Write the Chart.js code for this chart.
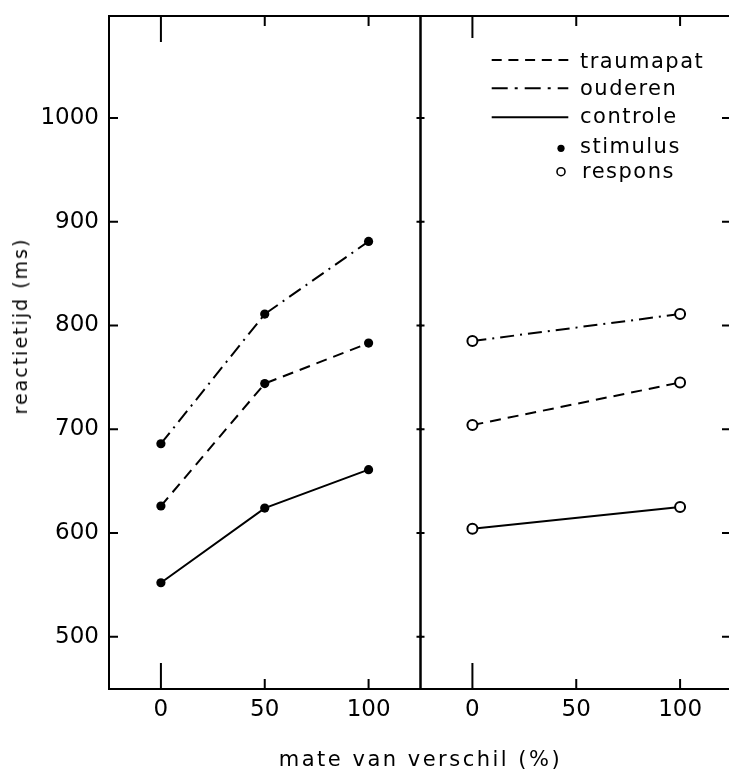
<!DOCTYPE html>
<html>
<head>
<meta charset="utf-8">
<script src="https://cdn.jsdelivr.net/npm/chart.js@4.4.1/dist/chart.umd.min.js"></script>
<style>
  html, body { margin: 0; padding: 0; background: #fff; overflow: hidden; width: 729px; height: 770px; }
  #wrap { position: relative; width: 729px; height: 770px; overflow: hidden; }
  canvas { position: absolute; top: 0; }
  .title { position: absolute; font-family: 'DejaVu Sans', sans-serif; color: #000; white-space: nowrap; line-height: normal; }
</style>
</head>
<body>
<div id="wrap">
  <canvas id="leftPanel" width="422" height="770" style="left:0px;width:422px;height:770px"></canvas>
  <canvas id="rightPanel" width="315" height="770" style="left:419px;width:315px;height:770px"></canvas>
  <div id="xTitle" class="title"></div>
  <div id="yTitle" class="title"></div>
</div>
<script>
// ---------- data ----------
const xTicks = [0, 50, 100];
const yTicks = [500, 600, 700, 800, 900, 1000];
const groups = ['traumapat', 'ouderen', 'controle'];
const markerLabels = ['stimulus', 'respons'];

const stimulusX = [0, 50, 100];
const traumapatStimulus = [626, 744, 783];
const ouderenStimulus = [686, 811, 881];
const controleStimulus = [552, 624, 661];

const responsX = [0, 100];
const traumapatRespons = [704, 745];
const ouderenRespons = [785, 811];
const controleRespons = [604, 625];

const xTitleText = 'mate van verschil (%)';
const yTitleText = 'reactietijd (ms)';

// ---------- styles ----------
const stimulusSeries = { traumapat: traumapatStimulus, ouderen: ouderenStimulus, controle: controleStimulus };
const responsSeries = { traumapat: traumapatRespons, ouderen: ouderenRespons, controle: controleRespons };
const dashes = { traumapat: [11, 7], ouderen: [14, 6, 2, 6], controle: [] };
const legendDashes = { traumapat: [10, 6.7], ouderen: [16, 7, 3, 7], controle: [] };

Chart.defaults.font.family = "'DejaVu Sans', sans-serif";
Chart.defaults.color = '#000';

const Y_MIN = 449.6, Y_MAX = 1098.3;
const X_MIN = -25, X_MAX = 125;

const frameTicks = {
  id: 'frameTicks',
  afterDraw(chart, args, o) {
    const { ctx, chartArea: a } = chart;
    const x = chart.scales.x, y = chart.scales.y;
    ctx.save();
    ctx.strokeStyle = '#000';
    ctx.lineWidth = 2;
    ctx.setLineDash([]);
    ctx.strokeRect(a.left, a.top, a.right - a.left, a.bottom - a.top);
    ctx.beginPath();
    x.ticks.forEach(t => {
      const px = x.getPixelForValue(t.value);
      const lt = t.value === 0 ? o.longTop : o.shortX;
      const lb = t.value === 0 ? o.longBottom : o.shortX;
      ctx.moveTo(px, a.top); ctx.lineTo(px, a.top + lt);
      ctx.moveTo(px, a.bottom); ctx.lineTo(px, a.bottom - lb);
    });
    y.ticks.forEach(t => {
      const py = y.getPixelForValue(t.value);
      if (o.left) { ctx.moveTo(a.left - o.left[0], py); ctx.lineTo(a.left + o.left[1], py); }
      if (o.right) { ctx.moveTo(a.right - o.right[1], py); ctx.lineTo(a.right + o.right[0], py); }
    });
    ctx.stroke();
    ctx.restore();
  }
};

const legendPlugin = {
  id: 'customLegend',
  afterDraw(chart, args, o) {
    if (!o.show) return;
    const ctx = chart.ctx;
    ctx.save();
    ctx.strokeStyle = '#000';
    ctx.fillStyle = '#000';
    ctx.font = "21px 'DejaVu Sans', sans-serif";
    if ('letterSpacing' in ctx) ctx.letterSpacing = '1.5px';
    ctx.textAlign = 'left';
    ctx.textBaseline = 'alphabetic';
    const lineX0 = 72.7, lineX1 = 149.3, textX = 161, markX = 142;
    const lineY = [60, 88.3, 117.3];
    const lineBase = [68, 94.7, 123.2];
    groups.forEach((g, i) => {
      ctx.lineWidth = 2;
      ctx.setLineDash(legendDashes[g]);
      ctx.beginPath();
      ctx.moveTo(lineX0, lineY[i]);
      ctx.lineTo(lineX1, lineY[i]);
      ctx.stroke();
      ctx.fillText(g, textX, lineBase[i]);
    });
    ctx.setLineDash([]);
    ctx.beginPath();
    ctx.arc(markX, 148.3, 3.6, 0, Math.PI * 2);
    ctx.fill();
    ctx.fillText(markerLabels[0], textX, 153.2);
    ctx.lineWidth = 1.6;
    ctx.beginPath();
    ctx.arc(markX, 171.7, 4, 0, Math.PI * 2);
    ctx.stroke();
    ctx.fillText(markerLabels[1], textX + 2, 177.7);
    ctx.restore();
  }
};

function zeroPad(s) { s.paddingTop = 0; s.paddingBottom = 0; s.paddingLeft = 0; s.paddingRight = 0; }

function makeScales(showY) {
  return {
    x: {
      type: 'linear', min: X_MIN, max: X_MAX,
      afterBuildTicks: s => { s.ticks = xTicks.map(v => ({ value: v })); },
      afterFit: s => { s.height = 81; zeroPad(s); },
      grid: { display: false, drawTicks: false },
      border: { display: false },
      ticks: { font: { size: 23 }, color: '#000', padding: 7, maxRotation: 0, autoSkip: false,
               callback: v => String(v) }
    },
    y: {
      type: 'linear', min: Y_MIN, max: Y_MAX, display: showY,
      afterBuildTicks: s => { s.ticks = yTicks.map(v => ({ value: v })); },
      afterFit: s => { if (showY) s.width = 109; zeroPad(s); },
      grid: { display: false, drawTicks: false },
      border: { display: false },
      ticks: { font: { size: 23 }, color: '#000', padding: 10, autoSkip: false,
               callback: v => String(v) }
    }
  };
}

function stimulusDatasets() {
  return groups.map(g => ({
    label: g + ' stimulus',
    data: stimulusX.map((xv, i) => ({ x: xv, y: stimulusSeries[g][i] })),
    borderColor: '#000', borderWidth: 2, borderDash: dashes[g],
    pointRadius: 4.6, pointBackgroundColor: '#000', pointBorderWidth: 0,
    pointHoverRadius: 4.6, fill: false, tension: 0
  }));
}
function responsDatasets() {
  return groups.map(g => ({
    label: g + ' respons',
    data: responsX.map((xv, i) => ({ x: xv, y: responsSeries[g][i] })),
    borderColor: '#000', borderWidth: 2, borderDash: dashes[g],
    pointRadius: 5, pointBackgroundColor: '#fff', pointBorderColor: '#000', pointBorderWidth: 2,
    pointHoverRadius: 5, fill: false, tension: 0
  }));
}

new Chart(document.getElementById('leftPanel'), {
  type: 'line',
  data: { datasets: stimulusDatasets() },
  options: {
    responsive: false, animation: false, devicePixelRatio: 1,
    layout: { autoPadding: false, padding: { top: 16, right: 1.5, left: 0, bottom: 0 } },
    scales: makeScales(true),
    plugins: {
      legend: { display: false }, tooltip: { enabled: false },
      frameTicks: { longTop: 26, longBottom: 26, shortX: 10, left: [0, 9], right: [4, 4] },
      customLegend: { show: false }
    }
  },
  plugins: [frameTicks, legendPlugin]
});

new Chart(document.getElementById('rightPanel'), {
  type: 'line',
  data: { datasets: responsDatasets() },
  options: {
    responsive: false, animation: false, devicePixelRatio: 1,
    layout: { autoPadding: false, padding: { top: 16, right: 2, left: 1.5, bottom: 0 } },
    scales: makeScales(false),
    plugins: {
      legend: { display: false }, tooltip: { enabled: false },
      frameTicks: { longTop: 22, longBottom: 26, shortX: 10, left: [4, 4], right: [0, 10] },
      customLegend: { show: true }
    }
  },
  plugins: [frameTicks, legendPlugin]
});

const xt = document.getElementById('xTitle');
xt.textContent = xTitleText;
xt.style.fontSize = '21px';
xt.style.letterSpacing = '2.5px';
xt.style.left = '420.5px';
xt.style.top = '759.4px';
xt.style.transform = 'translate(-50%, -50%)';

const yt = document.getElementById('yTitle');
yt.textContent = yTitleText;
yt.style.fontSize = '19px';
yt.style.letterSpacing = '2px';
yt.style.left = '19.5px';
yt.style.top = '326px';
yt.style.transform = 'translate(-50%, -50%) rotate(-90deg)';
</script>
</body>
</html>
